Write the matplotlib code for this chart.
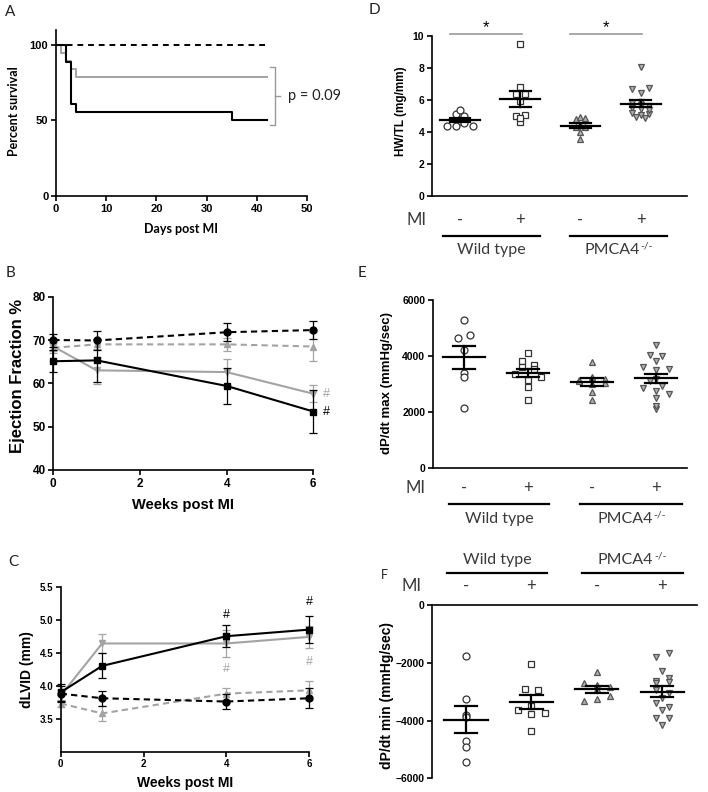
import numpy as np
import matplotlib
matplotlib.use('Agg')
import matplotlib.pyplot as plt

# ---- DATA ----
# A: survival after MI (%)
days_wt_mi = [0, 2, 3, 4, 35, 42]
surv_wt_mi = [100, 88.9, 61.1, 55.6, 50.0, 50.0]
days_pm_mi = [0, 1, 2, 3, 4, 42]
surv_pm_mi = [100, 94.7, 89.5, 84.2, 78.9, 78.9]
days_sham = [0, 42]
surv_sham = [100, 100]

# B: ejection fraction (%), mean and SEM
weeks = [0, 1, 4, 6]
ef_wt_sham = [70.0, 69.9, 71.8, 72.3]
ef_wt_sham_sem = [1.5, 2.1, 2.1, 2.0]
ef_pm_sham = [68.2, 69.0, 69.0, 68.5]
ef_pm_sham_sem = [1.2, 1.0, 1.5, 3.3]
ef_wt_mi = [65.1, 65.3, 59.4, 53.5]
ef_wt_mi_sem = [2.5, 5.0, 4.1, 4.9]
ef_pm_mi = [68.5, 63.0, 62.6, 57.6]
ef_pm_mi_sem = [1.0, 3.1, 3.0, 2.0]

# C: dLVID (mm)
lvid_wt_sham = [3.88, 3.81, 3.76, 3.81]
lvid_wt_sham_sem = [0.12, 0.11, 0.11, 0.15]
lvid_pm_sham = [3.73, 3.58, 3.88, 3.93]
lvid_pm_sham_sem = [0.06, 0.11, 0.09, 0.14]
lvid_wt_mi = [3.90, 4.30, 4.75, 4.85]
lvid_wt_mi_sem = [0.13, 0.19, 0.17, 0.21]
lvid_pm_mi = [3.85, 4.64, 4.64, 4.74]
lvid_pm_mi_sem = [0.08, 0.15, 0.20, 0.17]

# D: HW/TL (mg/mm), groups WT-, WT+, PMCA4-, PMCA4+
hwtl_wt_sham = [4.4, 4.7, 5.1, 5.37, 5.0, 4.4, 4.58, 4.37]
hwtl_wt_mi = [9.5, 6.8, 6.35, 6.4, 5.95, 5.0, 4.6, 5.05, 4.9]
hwtl_pm_sham = [4.8, 4.96, 4.85, 4.3, 4.45, 4.3, 4.02, 3.55]
hwtl_pm_mi = [8.05, 6.7, 6.45, 6.75, 5.8, 5.5, 5.7, 5.65, 5.9, 4.95, 5.2, 5.05, 5.1, 5.45, 4.85, 5.4]

# E: dP/dt max (mmHg/sec)
dpmax_wt_sham = [5290, 4660, 4750, 4220, 3390, 3270, 2160]
dpmax_wt_mi = [4100, 3840, 3620, 3680, 3540, 3350, 3150, 3270, 2910, 2440]
dpmax_pm_sham = [3800, 3150, 3270, 3100, 3180, 3000, 2710, 2430, 3050]
dpmax_pm_mi = [4400, 4050, 3840, 4000, 3600, 3500, 3550, 3200, 3100, 2950, 2850, 2750, 2500, 2650, 2100, 2230]

# F: dP/dt min (mmHg/sec)
dpmin_wt_sham = [-1750, -3260, -3810, -3890, -4710, -4930, -5440]
dpmin_wt_mi = [-2050, -2920, -2940, -3650, -3770, -3750, -3500, -4350]
dpmin_pm_sham = [-2330, -2690, -2920, -2770, -3340, -3260, -3150, -2850]
dpmin_pm_mi = [-1790, -1670, -2280, -2620, -2710, -2540, -2650, -2950, -3230, -3050, -3380, -3520, -3630, -3920, -3920, -4150]

group_names = ['Wild type', 'PMCA4']
group_sups = ['', '-/-']
mi_signs = ['-', '+', '-', '+']

# ---- STYLE ----
plt.rcParams['font.family'] = ['Liberation Sans', 'DejaVu Sans']
plt.rcParams['font.weight'] = 'bold'

GRAY = '#a3a3a3'
TXT = '#3a3a3a'
W, H = 708, 792
fig = plt.figure(figsize=(W / 100, H / 100), dpi=100)


def px_axes(left, top, right, bottom):
    return fig.add_axes([left / W, 1 - bottom / H, (right - left) / W, (bottom - top) / H])


def prism(ax, size):
    for s in ['top', 'right']:
        ax.spines[s].set_visible(False)
    for s in ['left', 'bottom']:
        ax.spines[s].set_linewidth(1.2)
    ax.tick_params(direction='out', length=3.5, width=1.2, labelsize=size, pad=2)


def ylab(ax, text, x, y, size, family='Liberation Sans'):
    ax.text(x, y, text, transform=ax.transAxes, rotation=90, ha='center', va='center',
            fontsize=size, family=family, fontweight='bold')


def xlab(ax, text, x, y, size, family='Liberation Sans'):
    ax.text(x, y, text, transform=ax.transAxes, ha='center', va='center',
            fontsize=size, family=family, fontweight='bold')


def letter(x, y, s):
    fig.text(x / W, 1 - y / H, s, ha='left', va='center', fontsize=11, family='Lato',
             fontweight='normal', color='#222222')


def swarm_x(vals, center, dx, bin_w):
    vals = np.asarray(vals, dtype=float)
    x = np.full(len(vals), float(center))
    keys = np.round(vals / bin_w)
    for k in np.unique(keys):
        idx = np.where(keys == k)[0]
        n = len(idx)
        x[idx] = center + (np.arange(n) - (n - 1) / 2) * dx
    return x


def dot_plot(ax, groups, dx, bin_w, ms):
    markers = ['o', 's', '^', 'v']
    faces = ['white', 'white', '#b0b0b0', '#b0b0b0']
    edges = ['#333333', '#333333', '#555555', '#555555']
    for i, vals in enumerate(groups):
        xs = swarm_x(vals, i, dx, bin_w)
        ax.plot(xs, vals, ls='none', marker=markers[i], ms=ms, mfc=faces[i], mec=edges[i],
                mew=0.9, zorder=2, clip_on=False)
        m = np.mean(vals)
        sem = np.std(vals, ddof=1) / np.sqrt(len(vals))
        ax.plot([i - 0.33, i + 0.33], [m, m], color='black', lw=1.6, zorder=3)
        ax.plot([i - 0.17, i + 0.17], [m + sem, m + sem], color='black', lw=1.6, zorder=3)
        ax.plot([i - 0.17, i + 0.17], [m - sem, m - sem], color='black', lw=1.6, zorder=3)
        ax.plot([i, i], [m - sem, m + sem], color='black', lw=1.6, zorder=3)


def group_labels(ax, y_mi, y_line, y_text, mi_x, spans):
    tr = ax.get_xaxis_transform()
    ax.text(mi_x, y_mi, 'MI', transform=tr, ha='center', va='center', fontsize=12,
            family='Lato', fontweight='normal', color=TXT)
    for i, s in enumerate(mi_signs):
        ax.text(i, y_mi, s, transform=tr, ha='center', va='center', fontsize=12,
                family='Lato', fontweight='normal', color=TXT)
    for (x0, x1), name, sup in zip(spans, group_names, group_sups):
        ax.plot([x0, x1], [y_line, y_line], transform=tr, color='black', lw=1.6, clip_on=False)
        xc = (x0 + x1) / 2 - (0.1 if sup else 0)
        t = ax.text(xc, y_text, name, transform=tr, ha='center', va='center',
                    fontsize=11.5, family='Lato', fontweight='normal', color=TXT)
        if sup:
            ax.annotate(sup, xy=(1, 0.78), xycoords=t, xytext=(0.5, 0), textcoords='offset points',
                        ha='left', va='center', fontsize=7.5, family='Lato',
                        fontweight='normal', color=TXT)


def time_course(ax, series, ms):
    for vals, sem, mk, col, ls, fc in series:
        ax.errorbar(weeks, vals, yerr=sem, marker=mk, ms=ms, color=col, mfc=fc, mec=col,
                    ls=ls, lw=1.5, ecolor=col, elinewidth=0.9, capsize=3, capthick=0.9,
                    clip_on=False, zorder=3 if col == 'black' else 2)


# ---- A ----
axA = px_axes(56, 29.9, 307, 196)
prism(axA, 8)
axA.step(days_sham, surv_sham, where='post', color='black', ls=(0, (3, 2.5)), lw=1.4)
axA.step(days_pm_mi, surv_pm_mi, where='post', color=GRAY, lw=1.4)
axA.step(days_wt_mi, surv_wt_mi, where='post', color='black', lw=1.5)
axA.set_xlim(0, 50)
axA.set_ylim(0, 110)
axA.set_xticks([0, 10, 20, 30, 40, 50])
axA.set_yticks([0, 50, 100])
axA.plot([42.6, 43.6, 43.6, 42.6], [85.7, 85.7, 46.9, 46.9], color='#999999', lw=1.0, clip_on=False)
axA.plot([43.6, 44.6], [66, 66], color='#999999', lw=1.0, clip_on=False)
axA.text(46.3, 66, 'p = 0.09', ha='left', va='center', fontsize=10.5, family='Lato',
         fontweight='normal', color='#222222')
ylab(axA, 'Percent survival', -0.167, 0.51, 9, 'Lato')
xlab(axA, 'Days post MI', 0.5, -0.2, 9, 'Lato')
letter(5, 12, 'A')

# ---- B ----
axB = px_axes(53.3, 296.7, 313.3, 470)
prism(axB, 8.5)
time_course(axB, [
    (ef_pm_sham, ef_pm_sham_sem, '^', GRAY, (0, (3, 2)), GRAY),
    (ef_pm_mi, ef_pm_mi_sem, 'v', GRAY, '-', GRAY),
    (ef_wt_sham, ef_wt_sham_sem, 'o', 'black', (0, (3, 2)), 'black'),
    (ef_wt_mi, ef_wt_mi_sem, 's', 'black', '-', 'black'),
], 5)
axB.set_xlim(0, 6)
axB.set_ylim(40, 80)
axB.set_xticks([0, 2, 4, 6])
axB.set_yticks([40, 50, 60, 70, 80])
axB.text(6.3, ef_pm_mi[-1], '#', color=GRAY, fontsize=9, fontweight='normal', ha='center', va='center')
axB.text(6.3, ef_wt_mi[-1], '#', color='black', fontsize=9, fontweight='normal', ha='center', va='center')
ylab(axB, 'Ejection Fraction %', -0.136, 0.54, 12)
xlab(axB, 'Weeks post MI', 0.5, -0.2, 10.5)
letter(6, 273, 'B')

# ---- C ----
axC = px_axes(60.7, 586.7, 309.3, 751.7)
prism(axC, 7)
time_course(axC, [
    (lvid_pm_sham, lvid_pm_sham_sem, '^', GRAY, (0, (3, 2)), GRAY),
    (lvid_pm_mi, lvid_pm_mi_sem, 'v', GRAY, '-', GRAY),
    (lvid_wt_sham, lvid_wt_sham_sem, 'o', 'black', (0, (3, 2)), 'black'),
    (lvid_wt_mi, lvid_wt_mi_sem, 's', 'black', '-', 'black'),
], 5)
axC.set_xlim(0, 6)
axC.set_ylim(3.0, 5.5)
axC.set_xticks([0, 2, 4, 6])
axC.set_yticks([3.5, 4.0, 4.5, 5.0, 5.5])
for wk, yb, yg in [(4, 5.07, 4.25), (6, 5.27, 4.36)]:
    axC.text(wk, yb, '#', color='black', fontsize=9, fontweight='normal', ha='center', va='center')
    axC.text(wk, yg, '#', color=GRAY, fontsize=9, fontweight='normal', ha='center', va='center')
ylab(axC, 'dLVID (mm)', -0.137, 0.495, 10)
xlab(axC, 'Weeks post MI', 0.5, -0.19, 10)
letter(8, 562, 'C')

# ---- D ----
axD = px_axes(432, 36, 687, 196)
prism(axD, 7.5)
dot_plot(axD, [hwtl_wt_sham, hwtl_wt_mi, hwtl_pm_sham, hwtl_pm_mi], 0.14, 0.3, 5)
axD.set_xlim(-0.467, 3.77)
axD.set_ylim(0, 10)
axD.set_yticks([0, 2, 4, 6, 8, 10])
axD.set_xticks([])
for x0, x1, xs in [(-0.17, 1.03, 0.43), (1.83, 3.02, 2.43)]:
    axD.plot([x0, x1], [10.1, 10.1], color='#999999', lw=1.2, clip_on=False)
    axD.text(xs, 10.55, '*', ha='center', va='center', fontsize=12, fontweight='normal')
group_labels(axD, -0.15, -0.25, -0.34, -0.73, [(-0.28, 1.32), (1.82, 3.43)])
ylab(axD, 'HW/TL (mg/mm)', -0.123, 0.527, 8.5)
letter(369, 10, 'D')

# ---- E ----
axE = px_axes(433, 300, 687, 468.3)
prism(axE, 7.5)
dot_plot(axE, [dpmax_wt_sham, dpmax_wt_mi, dpmax_pm_sham, dpmax_pm_mi], 0.2, 250, 5)
axE.set_xlim(-0.484, 3.484)
axE.set_ylim(0, 6000)
axE.set_yticks([0, 2000, 4000, 6000])
axE.set_xticks([])
group_labels(axE, -0.115, -0.21, -0.3, -0.75, [(-0.23, 1.33), (1.82, 3.41)])
ylab(axE, 'dP/dt max (mmHg/sec)', -0.18, 0.505, 9.5)
letter(358, 273, 'E')

# ---- F ----
axF = px_axes(432, 605, 697, 778.3)
prism(axF, 7.5)
axF.spines['bottom'].set_visible(False)
axF.spines['top'].set_visible(True)
axF.spines['top'].set_linewidth(1.2)
dot_plot(axF, [dpmin_wt_sham, dpmin_wt_mi, dpmin_pm_sham, dpmin_pm_mi], 0.2, 250, 5)
axF.set_xlim(-0.52, 3.53)
axF.set_ylim(-6000, 0)
axF.set_yticks([0, -2000, -4000, -6000])
axF.set_xticks([])
group_labels(axF, 1.11, 1.186, 1.26, -0.84, [(-0.29, 1.24), (1.77, 3.31)])
ylab(axF, 'dP/dt min (mmHg/sec)', -0.169, 0.48, 10)
fig.text(384 / W, 1 - 575 / H, 'F', ha='center', va='center', fontsize=9, family='Lato',
         fontweight='normal', color='#222222')

fig.savefig('out.png', dpi=100)
